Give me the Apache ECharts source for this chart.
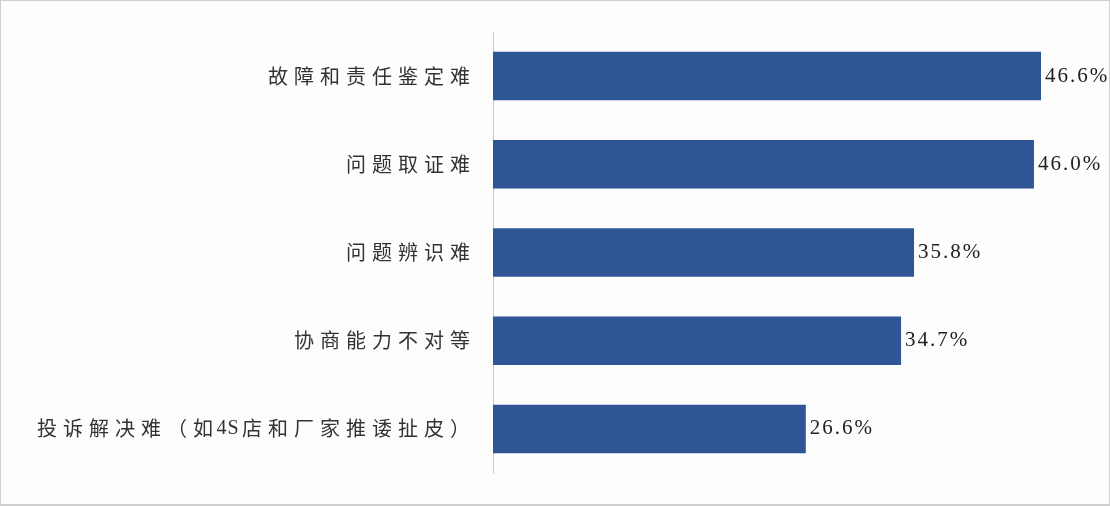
<!DOCTYPE html>
<html>
<head>
<meta charset="utf-8">
<script src="https://cdn.jsdelivr.net/npm/echarts@6/dist/echarts.min.js"></script>
<style>
html,body{margin:0;padding:0;background:#fdfdfd;}
#c{width:1108px;height:503px;border:1px solid #cfcfcf;border-bottom-width:2px;background:#fdfdfd;}
</style>
</head>
<body>
<div id="c"></div>
<script>
const categories = ['故障和责任鉴定难','问题取证难','问题辨识难','协商能力不对等','投诉解决难（如4S店和厂家推诿扯皮）'];
const values = [46.6, 46.0, 35.8, 34.7, 26.6];

// spread characters apart like the reference (each glyph is its own rich token)
function spread(s) {
  return Array.from(s).map(ch => /[A-Za-z0-9]/.test(ch) ? '{n|' + ch + '}' : '{c|' + ch + '}').join('');
}
function spreadNum(s) {
  return Array.from(s).map(ch => '{d|' + ch + '}').join('');
}

const chart = echarts.init(document.getElementById('c'));
chart.setOption({
  animation: false,
  backgroundColor: '#fdfdfd',
  grid: {left: 492, right: 28, top: 31, bottom: 31},
  xAxis: {
    type: 'value', min: 0, max: 50, show: false
  },
  yAxis: {
    type: 'category', inverse: true, data: categories,
    axisLine: {show: true, lineStyle: {color: '#c8c8c8', width: 1}},
    axisTick: {show: false},
    axisLabel: {
      color: '#333', fontSize: 20, margin: 20,
      fontFamily: '"Noto Sans CJK SC", sans-serif',
      formatter: v => spread(v),
      rich: {
        c: {fontSize: 20, color: '#333', padding: [0, 3, 0, 3], fontFamily: '"Noto Sans CJK SC", sans-serif'},
        n: {fontSize: 20, color: '#333', padding: [0, 0.5, 0, 0.5], fontFamily: '"Liberation Serif", serif'}
      }
    }
  },
  series: [{
    type: 'bar', data: values, barWidth: '55%',
    itemStyle: {color: '#2F5597'},
    label: {show: true, position: 'right', distance: 3,
      formatter: p => spreadNum(p.value.toFixed(1) + '%'),
      rich: {
        d: {fontSize: 21, color: '#222', padding: [0, 1, 0, 1], fontFamily: '"Liberation Serif", "DejaVu Serif", serif'}
      }
    }
  }]
});
</script>
</body>
</html>
